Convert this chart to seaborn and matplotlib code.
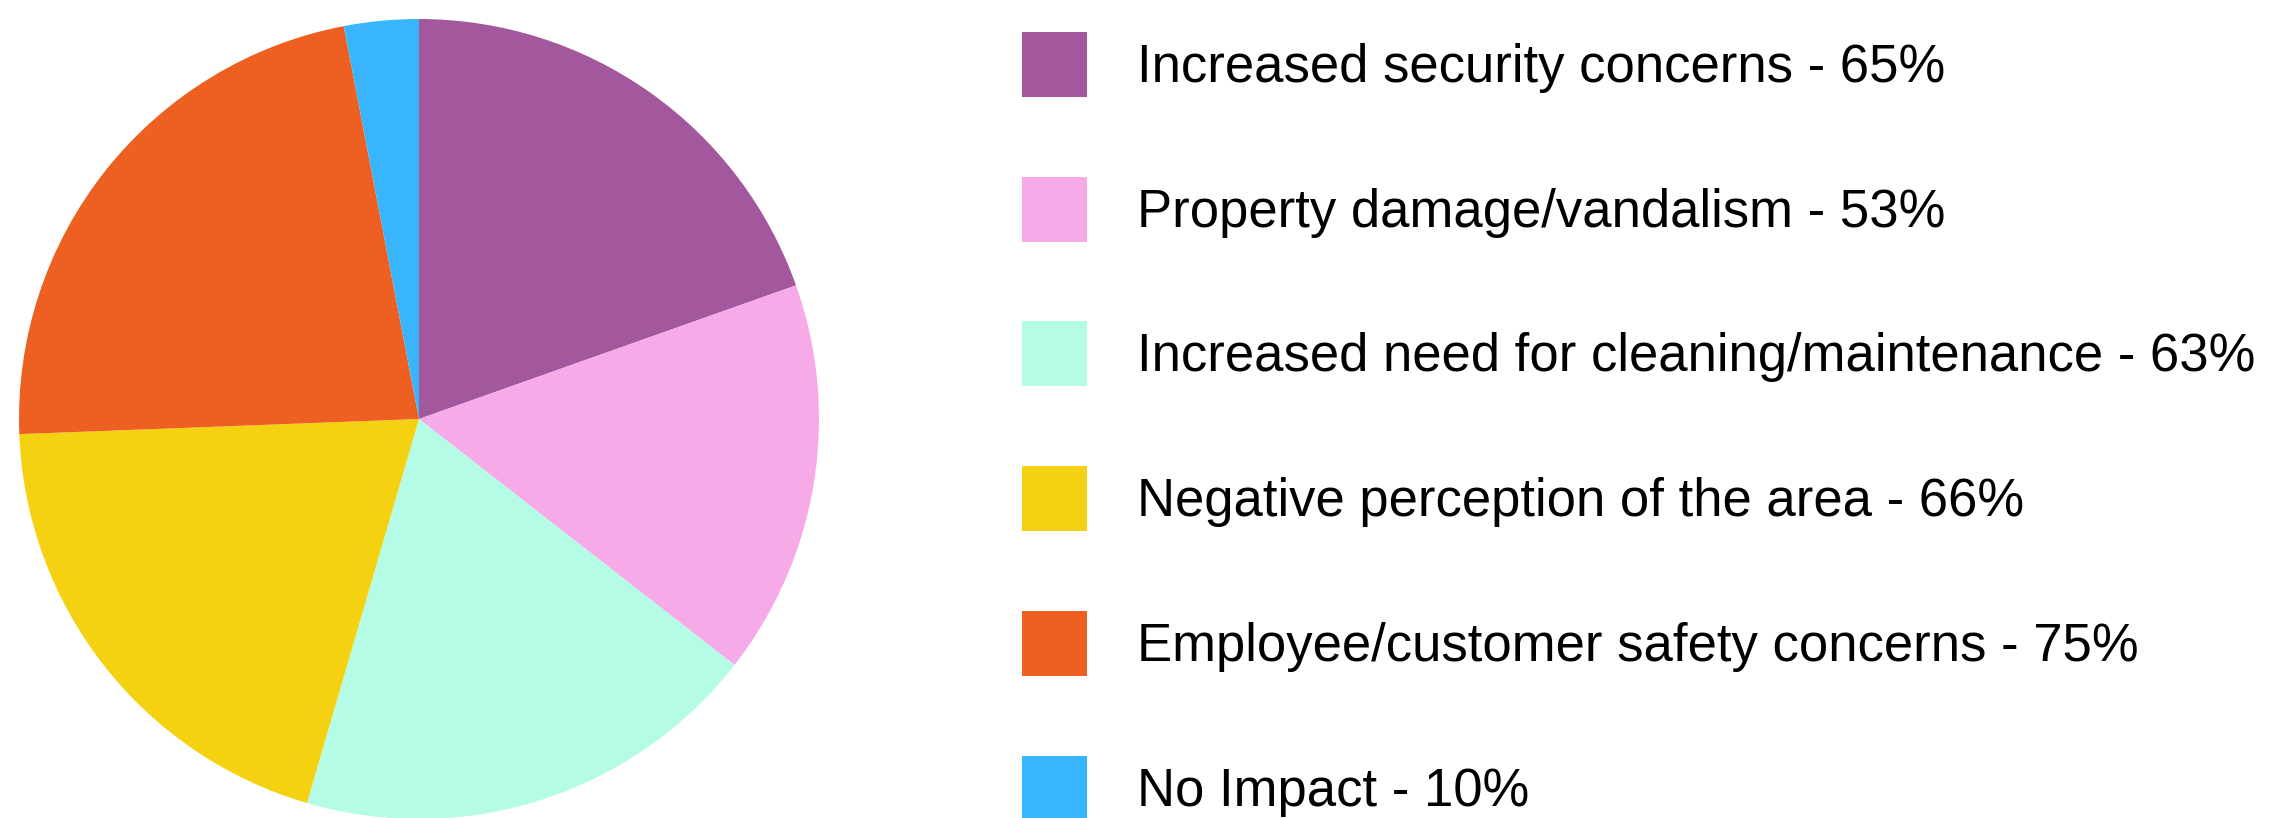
import seaborn as sns
import matplotlib.pyplot as plt

categories = [
    "Increased security concerns",
    "Property damage/vandalism",
    "Increased need for cleaning/maintenance",
    "Negative perception of the area",
    "Employee/customer safety concerns",
    "No Impact",
]
percents = [65, 53, 63, 66, 75, 10]
colors = ["#A3589E", "#F6AAE8", "#B4FCE6", "#F5D211", "#EE6021", "#39B5FE"]


def draw_pie(output: str) -> None:
    sns.set_theme(style="white")
    plt.rcParams["font.family"] = ["Liberation Sans", "DejaVu Sans"]

    W, H = 2270, 818
    fig = plt.figure(figsize=(W / 100, H / 100), dpi=100)
    ax = fig.add_axes([19 / W, (H - 819) / H, 800 / W, 800 / H])

    wedges, _ = ax.pie(
        percents,
        colors=colors,
        startangle=90,
        counterclock=False,
        wedgeprops={"linewidth": 0},
    )
    ax.set_aspect("auto")
    ax.set_xlim(-1, 1)
    ax.set_ylim(-1, 1)
    ax.axis("off")

    labels = [f"{c} - {p}%" for c, p in zip(categories, percents)]
    fs = 37.9
    fs_px = fs * 100 / 72
    box = 65  # legend square size in px
    hh = (box / fs_px - 0.245) / 0.65
    leg = fig.legend(
        wedges,
        labels,
        loc="upper left",
        bbox_to_anchor=(1022 / W, 1 - 32 / H),
        frameon=False,
        fontsize=fs,
        handlelength=box / fs_px,
        handleheight=hh,
        handletextpad=50 / fs_px,
        labelspacing=1.515,
        borderpad=0,
        borderaxespad=0,
    )
    for t in leg.get_texts():
        t.set_color("black")

    fig.savefig(output, dpi=100)
    plt.close(fig)


if __name__ == "__main__":
    draw_pie("out.png")
